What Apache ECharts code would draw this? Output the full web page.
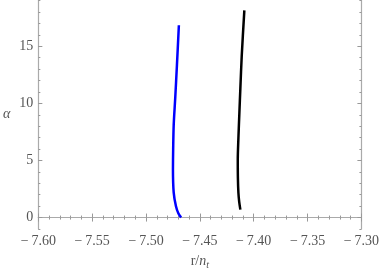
<!DOCTYPE html>
<html><head><meta charset="utf-8">
<script src="https://cdn.jsdelivr.net/npm/echarts@6/dist/echarts.min.js"></script>
<style>html,body{margin:0;padding:0;background:#fff}#c{width:382px;height:277px}</style>
</head><body><div id="c"></div>
<script>
var blueX = [-7.4674, -7.4699, -7.4722, -7.4743, -7.4750, -7.4748, -7.4743, -7.4729, -7.4713, -7.4695];
var blueY = [0.0, 0.35, 0.99, 2.18, 4.18, 6.0, 8.11, 10.44, 13.34, 16.83];
var blackX = [-7.4124, -7.4135, -7.4142, -7.4147, -7.4148, -7.4142, -7.4133, -7.4124, -7.4111, -7.4087];
var blackY = [0.70, 1.4, 2.15, 3.5, 5.06, 7.0, 9.2, 11.31, 14.21, 18.13];
var yTicks = [0, 5, 10, 15];
var xMin = -7.60, xMax = -7.30, xStep = 0.05;
var yMin = -1, yMax = 19;

function pairs(xs, ys){ return xs.map(function(x,i){return [x, ys[i]];}); }
var serif = 'Liberation Serif';
var frame = {show:true, lineStyle:{color:'#aaaaaa', width:1.2}};
var lblColor = '#555555';
function fmtX(v){ var s = Math.abs(v).toFixed(2); return (v<0 ? '\u2212\u2009' : '') + s; }

var chart = echarts.init(document.getElementById('c'), null, {renderer:'canvas'});
chart.setOption({
  animation:false,
  grid:{left:34.5, right:20, top:0.5, bottom:48, containLabel:false},
  xAxis:[
    {type:'value', position:'bottom', min:xMin, max:xMax, interval:xStep,
     axisLine:frame, splitLine:{show:false},
     axisTick:{show:true, inside:true, length:4, lineStyle:{color:'#999'}},
     minorTick:{show:true, splitNumber:5, length:2, lineStyle:{color:'#999'}},
     axisLabel:{color:lblColor, fontFamily:serif, fontSize:14, margin:5, formatter:fmtX},
     name:'{a|r/}{b|n}{c|t}', nameLocation:'middle', nameGap:24,
     nameTextStyle:{rich:{a:{fontFamily:serif, fontSize:14, color:lblColor},
                          b:{fontFamily:serif, fontSize:14, fontStyle:'italic', color:lblColor},
                          c:{fontFamily:serif, fontSize:10, fontStyle:'italic', color:lblColor, padding:[7,0,0,0]}}}},
    {type:'value', position:'top', min:xMin, max:xMax, interval:xStep,
     axisLine:frame, splitLine:{show:false},
     axisTick:{show:true, inside:true, length:4, lineStyle:{color:'#999'}},
     minorTick:{show:true, splitNumber:5, length:2, lineStyle:{color:'#999'}},
     axisLabel:{show:false}}
  ],
  yAxis:[
    {type:'value', position:'left', min:yMin, max:yMax,
     axisLine:frame, splitLine:{show:false},
     axisTick:{show:true, inside:true, length:4, customValues:yTicks, lineStyle:{color:'#999'}},
     axisLabel:{color:lblColor, fontFamily:serif, fontSize:14, margin:5, customValues:yTicks},
     name:'α', nameLocation:'middle', nameGap:28, nameRotate:0,
     nameTextStyle:{fontFamily:serif, fontSize:14, fontStyle:'italic', color:lblColor}},
    {type:'value', position:'left', min:yMin, max:yMax, interval:1,
     axisLine:{show:false}, splitLine:{show:false},
     axisTick:{show:true, inside:true, length:2, lineStyle:{color:'#999'}},
     axisLabel:{show:false}},
    {type:'value', position:'right', min:yMin, max:yMax,
     axisLine:frame, splitLine:{show:false},
     axisTick:{show:true, inside:true, length:4, customValues:yTicks, lineStyle:{color:'#999'}},
     axisLabel:{show:false}},
    {type:'value', position:'right', min:yMin, max:yMax, interval:1,
     axisLine:{show:false}, splitLine:{show:false},
     axisTick:{show:true, inside:true, length:2, lineStyle:{color:'#999'}},
     axisLabel:{show:false}}
  ],
  series:[
    {type:'line', data:pairs(blueX, blueY), smooth:0.3, showSymbol:false,
     lineStyle:{color:'#0000ff', width:2.5}, xAxisIndex:0, yAxisIndex:0},
    {type:'line', data:pairs(blackX, blackY), smooth:0.3, showSymbol:false,
     lineStyle:{color:'#000000', width:2.5}, xAxisIndex:0, yAxisIndex:0}
  ]
});
</script></body></html>
